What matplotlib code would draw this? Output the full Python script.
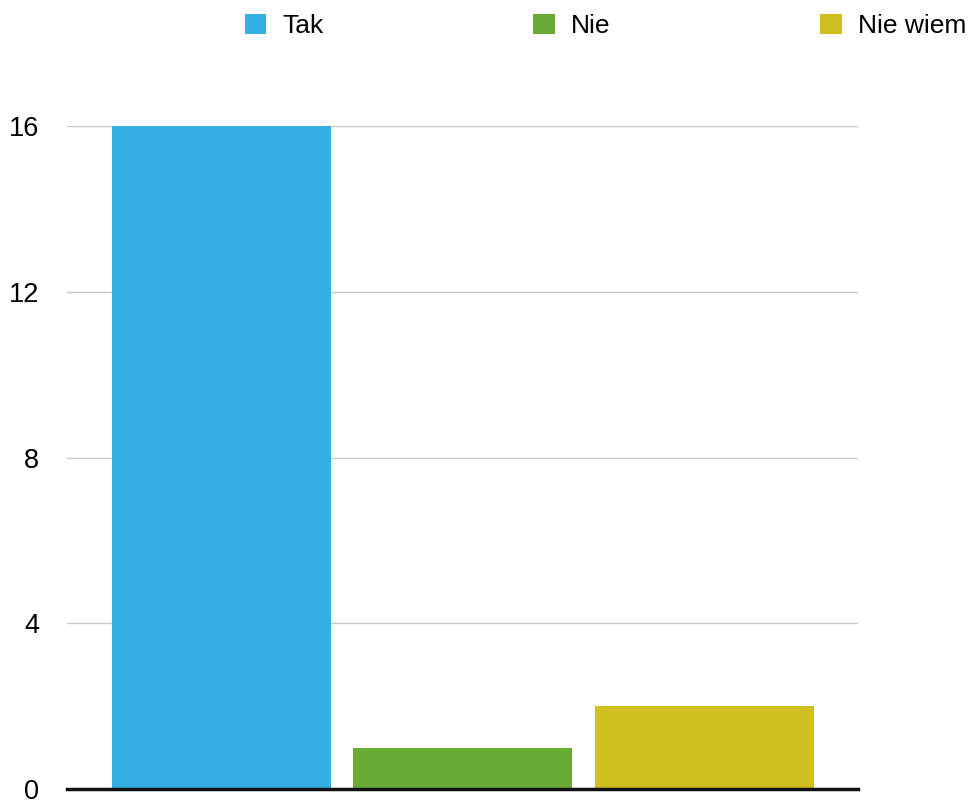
import matplotlib
matplotlib.use("Agg")
import matplotlib.pyplot as plt

plt.rcParams['font.family'] = ['Liberation Sans', 'DejaVu Sans']

# data
categories = ["Tak", "Nie", "Nie wiem"]
values = [16, 1, 2]
colors = ["#35aee3", "#6aab35", "#d0bf20"]
yticks = [0, 4, 8, 12, 16]

fig = plt.figure(figsize=(9.76, 8.02), dpi=100)
ax = fig.add_axes([67 / 976, 13 / 802, (858 - 67) / 976, (789 - 126) / 802])

for i, (cat, val, col) in enumerate(zip(categories, values, colors)):
    ax.bar(i, val, width=0.907, color=col, label=cat, zorder=2)

ax.set_xlim(-0.64, 2.636)
ax.set_ylim(0, 16)
ax.set_yticks(yticks)
ax.set_yticklabels([str(t) for t in yticks], fontsize=19.5, va='center_baseline')
ax.set_xticks([])
ax.tick_params(axis='y', length=0, pad=20)
ax.grid(axis='y', color='#c8c8c8', linewidth=1, zorder=0)
for s in ['top', 'right', 'left']:
    ax.spines[s].set_visible(False)
ax.spines['bottom'].set_linewidth(2.5)
ax.spines['bottom'].set_color('#111111')
ax.spines['bottom'].set_zorder(3)

fig.legend(loc='upper left', bbox_to_anchor=(234 / 976, 1 - 3 / 802), ncol=3,
           frameon=False, fontsize=19, handlelength=0.83, handleheight=0.83,
           handletextpad=0.6, columnspacing=7.95, borderaxespad=0)

fig.savefig("out.png", dpi=100)
